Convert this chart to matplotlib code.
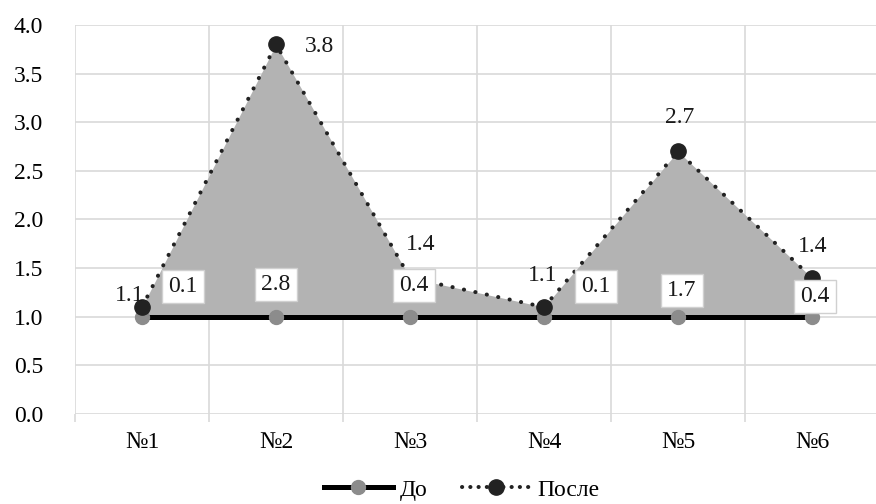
import matplotlib
matplotlib.use("Agg")
import matplotlib.pyplot as plt
import numpy as np

plt.rcParams['font.family'] = ['Liberation Serif', 'DejaVu Serif']

categories = ["№1", "№2", "№3", "№4", "№5", "№6"]
before = [1.0, 1.0, 1.0, 1.0, 1.0, 1.0]
after = [1.1, 3.8, 1.4, 1.1, 2.7, 1.4]
y_ticks = [0.0, 0.5, 1.0, 1.5, 2.0, 2.5, 3.0, 3.5, 4.0]

# pixel offsets for the value labels
after_label_offsets = [(-12, 12), (44, -2), (11, 33), (-1, 32), (2, 34), (1, 31)]
diff_label_offsets = [(41, 30), (0, 32), (4, 31), (52, 30), (4, 26), (3, 20)]

FS = 17
DOT = (0, (0.05, 2.85))

fig = plt.figure(figsize=(8.76, 5.04), dpi=100)
ax = fig.add_axes([75 / 876, 1 - 414 / 504, 804 / 876, (414 - 25) / 504])

x = np.arange(len(categories))
diff = [a - b for a, b in zip(after, before)]

# shaded gain between the two series
ax.fill_between(x, before, after, color="#b3b3b3", linewidth=0, zorder=2)

ax.plot(x, before, color="black", linewidth=3.6, solid_capstyle="butt", zorder=3)
ax.plot(x, before, linestyle="none", marker="o", markersize=10,
        markerfacecolor="#8c8c8c", markeredgecolor="#8c8c8c", zorder=4)

ax.plot(x, after, color="#222222", linewidth=2.9, linestyle=DOT,
        dash_capstyle="round", zorder=5)
ax.plot(x, after, linestyle="none", marker="o", markersize=11,
        markerfacecolor="#222222", markeredgecolor="#222222", zorder=6)

for i, (v, off) in enumerate(zip(after, after_label_offsets)):
    ax.annotate(f"{v:.1f}", xy=(i, v), xytext=off, textcoords="offset pixels",
                ha="center", va="center", fontsize=FS, color="#1a1a1a", zorder=7)

for i, (d, b, off) in enumerate(zip(diff, before, diff_label_offsets)):
    ax.annotate(f"{d:.1f}", xy=(i, b), xytext=off, textcoords="offset pixels",
                ha="center", va="center", fontsize=FS, color="#1a1a1a", zorder=8,
                bbox=dict(boxstyle="square,pad=0.25", facecolor="white",
                          edgecolor="#d0d0d0", linewidth=1.0))

ax.set_xlim(-0.5, len(categories) - 0.5)
ax.set_ylim(0, 4)
ax.set_yticks(y_ticks)
ax.set_yticklabels([f"{t:.1f}" for t in y_ticks], fontsize=FS)
ax.set_xticks(x)
ax.set_xticklabels(categories, fontsize=FS)
ax.set_xticks(np.arange(-0.5, len(categories), 1.0), minor=True)

ax.grid(True, axis="y", color="#d9d9d9", linewidth=1.2, zorder=0)
ax.grid(True, axis="x", which="minor", color="#d9d9d9", linewidth=1.2, zorder=0)
ax.set_axisbelow(True)
for s in ax.spines.values():
    s.set_visible(False)
ax.tick_params(axis="y", which="major", length=0, pad=23)
ax.tick_params(axis="x", which="minor", length=6, color="#d9d9d9", width=1.2)
ax.tick_params(axis="x", which="major", length=0, pad=13)

h1 = plt.Line2D([], [], color="black", linewidth=3.6, marker="o", markersize=10,
                markerfacecolor="#8c8c8c", markeredgecolor="#8c8c8c")
h2 = plt.Line2D([], [], color="#222222", linewidth=2.9, linestyle=(0, (0.05, 2.0)),
                dash_capstyle="round", marker="o", markersize=11,
                markerfacecolor="#222222", markeredgecolor="#222222")
fig.legend([h1, h2], ["До", "После"], loc="center", bbox_to_anchor=(0.527, 1 - 490 / 504),
           ncol=2, frameon=False, fontsize=FS, handlelength=2.9, columnspacing=1.45,
           handletextpad=0.3)

fig.savefig("out.png", dpi=100)
